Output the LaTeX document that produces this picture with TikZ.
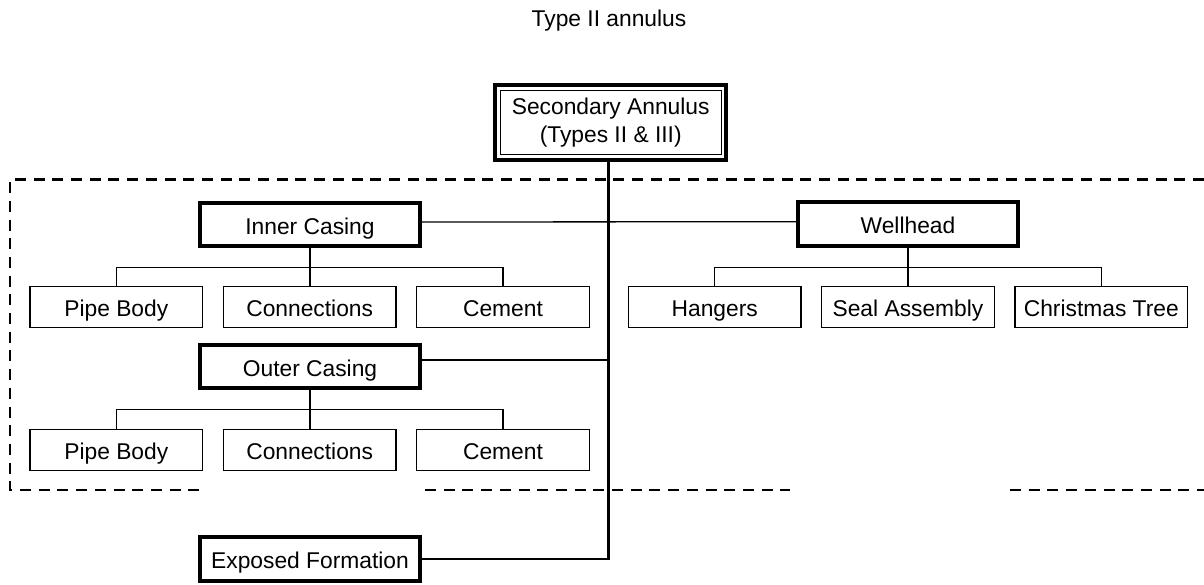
\documentclass[tikz,border=0pt]{standalone}
\usepackage{fontspec}
\setmainfont{Liberation Sans}
\begin{document}
\begin{tikzpicture}[x=1pt,y=-1pt,
  every node/.style={font=\fontsize{22.8}{27.4}\selectfont, align=center, inner sep=0pt},
  hub/.style={draw, line width=4pt, minimum width=219.4pt, minimum height=43.6pt,
              text height=19pt, text depth=0pt},
  leaf/.style={draw, line width=1.3pt, minimum width=172.7pt, minimum height=41pt,
               text height=19pt, text depth=0pt},
  rootbox/.style={draw, line width=4pt, minimum width=230.7pt, minimum height=74.4pt},
  conn/.style={line width=1.3pt},
  trunkline/.style={line width=2.2pt},
  groupline/.style={line width=2.8pt, dash pattern=on 11pt off 7.7pt}]

\useasboundingbox[fill=white] (0,0) rectangle (1204,584);

% title
\node[anchor=base] (title) at (609,26) {Type II annulus};

% grouping frame (dashed, open on the right, broken at the bottom)
\draw[groupline] (1204,179.3) -- (10,179.3) -- (10,490) -- (206.7,490);
\draw[groupline] (425,490) -- (790,490);
\draw[groupline] (1010,490) -- (1204,490);

% root
\node[rootbox] (sec) at (610.7,122.5) {Secondary Annulus\\(Types II \& III)};
\draw[line width=1.3pt] ([xshift=6.9pt,yshift=-6.9pt]sec.north west) rectangle
                        ([xshift=-6.9pt,yshift=6.9pt]sec.south east);

% main components
\node[hub] (inner) at (310,224.5) {Inner Casing};
\node[hub] (well)  at (908,224.2) {Wellhead};
\node[hub] (outer) at (310,366.6) {Outer Casing};
\node[hub] (expo)  at (310,559)   {Exposed Formation};

% sub-components
\node[leaf] (pb1) at (116.3,307.2) {Pipe Body};
\node[leaf] (co1) at (309.7,307.2) {Connections};
\node[leaf] (ce1) at (503,307.2)   {Cement};
\node[leaf] (pb2) at (116.3,449.7) {Pipe Body};
\node[leaf] (co2) at (309.7,449.7) {Connections};
\node[leaf] (ce2) at (503,449.7)   {Cement};
\node[leaf] (ha)  at (714.7,307.2) {Hangers};
\node[leaf] (se)  at (908,307.2)   {Seal Assembly};
\node[leaf] (ct)  at (1101.3,307.2) {Christmas Tree};

% bus levels and trunk position
\coordinate (busU) at (0,267.3);
\coordinate (busL) at (0,409.3);
\coordinate (tb) at (608.5,0);

% trunk from the root down to the exposed formation
\draw[trunkline] (sec.south -| tb) |- (expo.east);

% inner casing to wellhead
\draw[conn] ([yshift=2.5pt]inner.east) -- ([yshift=2.5pt]well.west);

% outer casing to trunk
\coordinate (ocj) at ([yshift=6.6pt]outer.east);
\draw[conn] (ocj) -- (ocj -| tb);

% inner casing branches
\draw[conn] (inner.south) -- (inner.south |- co1.north);
\draw[conn] (pb1.north) -- (pb1.north |- busU) -| (ce1.north);

% outer casing branches
\draw[conn] (outer.south) -- (outer.south |- co2.north);
\draw[conn] (pb2.north) -- (pb2.north |- busL) -| (ce2.north);

% wellhead branches
\draw[conn] (well.south) -- (well.south |- se.north);
\draw[conn] (ha.north) -- (ha.north |- busU) -| (ct.north);

\end{tikzpicture}
\end{document}
